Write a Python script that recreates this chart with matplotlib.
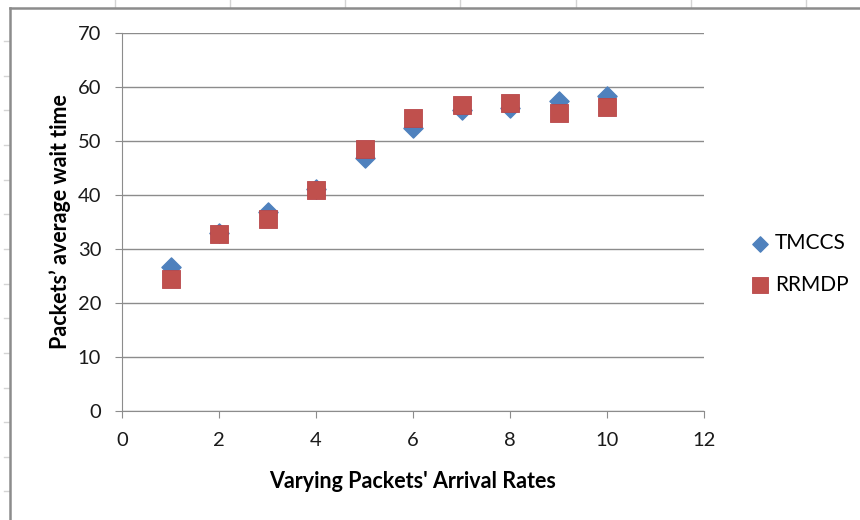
import matplotlib
matplotlib.use('Agg')
import matplotlib.pyplot as plt
from matplotlib.lines import Line2D

plt.rcParams['font.family'] = ['Lato', 'DejaVu Sans']

rates = [1, 2, 3, 4, 5, 6, 7, 8, 9, 10]
tmccs = [26.7, 33.0, 36.9, 41.2, 46.9, 52.5, 55.7, 56.2, 57.4, 58.4]
rrmdp = [24.5, 32.7, 35.6, 41.0, 48.5, 54.3, 56.7, 57.1, 55.2, 56.3]

x_ticks = [0, 2, 4, 6, 8, 10, 12]
y_ticks = [0, 10, 20, 30, 40, 50, 60, 70]

W, H = 860, 520
fig = plt.figure(figsize=(W / 100, H / 100), dpi=100)

# worksheet cells around the embedded chart
for px in [115, 230, 345, 460, 576, 691, 806]:
    fig.add_artist(Line2D([px / W, px / W], [1, 1 - 7 / H], color='#d4d4d4', lw=1))
for k in range(14):
    py = 41 + 34.65 * k
    fig.add_artist(Line2D([4 / W, 9 / W], [1 - py / H, 1 - py / H], color='#d4d4d4', lw=1))
fig.add_artist(Line2D([10 / W, 10 / W], [0, 1 - 8 / H], color='#8c8c8c', lw=1.8))
fig.add_artist(Line2D([10 / W, 1], [1 - 8 / H, 1 - 8 / H], color='#8c8c8c', lw=1.8))

ax = fig.add_axes([122 / W, 109 / H, 582 / W, 378 / H])

ax.scatter(rates, tmccs, marker='D', s=95, color='#4f81bd', zorder=3, label='TMCCS')
ax.scatter(rates, rrmdp, marker='s', s=185, color='#c0504d', edgecolor='#b8474a',
           linewidth=0.6, zorder=4, label='RRMDP')

ax.set_xlim(0, 12)
ax.set_ylim(0, 70)
ax.set_xticks(x_ticks)
ax.set_yticks(y_ticks)
ax.grid(axis='y', color='#8c8c8c', lw=1)
ax.set_axisbelow(True)

for side in ['top', 'right']:
    ax.spines[side].set_visible(False)
for side in ['left', 'bottom']:
    ax.spines[side].set_color('#8c8c8c')
ax.tick_params(axis='both', direction='out', length=5, color='#8c8c8c',
               labelsize=14.5, labelcolor='#1a1a1a')
ax.tick_params(axis='x', pad=10)
ax.tick_params(axis='y', pad=10)

ax.set_xlabel("Varying Packets' Arrival Rates", fontsize=15.5, fontweight='bold', labelpad=16)
ax.set_ylabel('Packets\u2019 average wait time', fontsize=15.5, fontweight='bold', labelpad=5)

ax.legend(loc='center left', bbox_to_anchor=(1.061, 0.389), frameon=False,
          fontsize=15, borderpad=0, handlelength=1.0, handletextpad=0.2,
          labelspacing=1.05, markerscale=0.8)

fig.savefig('out.png', dpi=100)
